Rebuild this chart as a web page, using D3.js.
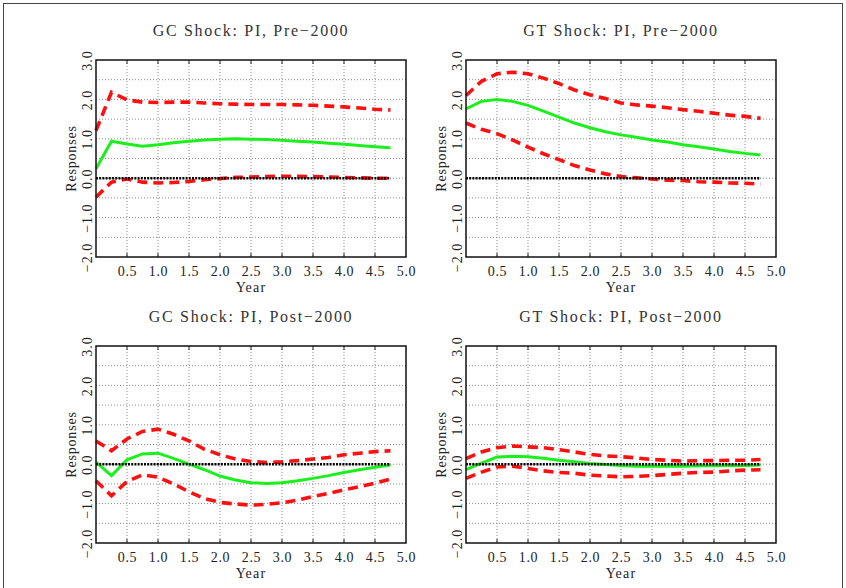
<!DOCTYPE html>
<html>
<head>
<meta charset="utf-8">
<script src="https://cdn.jsdelivr.net/npm/d3@7.9.0/dist/d3.min.js"></script>
<style>
  body { margin: 0; background: #fff; }
  svg text { font-family: "Liberation Serif", "DejaVu Serif", serif; fill: #222; }
</style>
</head>
<body>
<svg id="chart" width="846" height="588"></svg>
<script>
// quarterly horizon, in years
const quarters = [0, 0.25, 0.5, 0.75, 1.0, 1.25, 1.5, 1.75, 2.0, 2.25,
                  2.5, 2.75, 3.0, 3.25, 3.5, 3.75, 4.0, 4.25, 4.5, 4.75];

const xTicks = [0.5, 1.0, 1.5, 2.0, 2.5, 3.0, 3.5, 4.0, 4.5, 5.0];
const yTicks = [-2, -1, 0, 1, 2, 3];

// GC shock, pre-2000
const gcPreIrf = [0.24, 0.94, 0.87, 0.81, 0.85, 0.90, 0.94, 0.97, 0.99, 1.00,
                  0.99, 0.98, 0.96, 0.94, 0.92, 0.89, 0.86, 0.83, 0.80, 0.77];
const gcPreHi  = [1.21, 2.18, 1.99, 1.93, 1.92, 1.93, 1.93, 1.91, 1.89, 1.88,
                  1.87, 1.87, 1.87, 1.86, 1.85, 1.83, 1.81, 1.78, 1.75, 1.73];
const gcPreLo  = [-0.48, -0.10, -0.02, -0.10, -0.12, -0.11, -0.08, -0.04, -0.01, 0.02,
                  0.03, 0.04, 0.05, 0.05, 0.04, 0.03, 0.02, 0.01, 0.00, 0.00];

// GT shock, pre-2000
const gtPreIrf = [1.76, 1.95, 2.00, 1.95, 1.85, 1.70, 1.55, 1.40, 1.28, 1.18,
                  1.10, 1.04, 0.97, 0.92, 0.85, 0.80, 0.74, 0.68, 0.63, 0.59];
const gtPreHi  = [2.10, 2.46, 2.65, 2.69, 2.65, 2.54, 2.40, 2.24, 2.12, 2.02,
                  1.91, 1.86, 1.83, 1.79, 1.74, 1.70, 1.65, 1.60, 1.57, 1.52];
const gtPreLo  = [1.40, 1.24, 1.13, 0.97, 0.79, 0.62, 0.47, 0.32, 0.21, 0.11,
                  0.04, 0.01, -0.02, -0.05, -0.06, -0.09, -0.10, -0.12, -0.13, -0.15];

// GC shock, post-2000
const gcPostIrf = [0.05, -0.29, 0.11, 0.26, 0.28, 0.15, 0.00, -0.14, -0.30, -0.40,
                   -0.47, -0.49, -0.47, -0.42, -0.36, -0.29, -0.21, -0.14, -0.08, -0.02];
const gcPostHi  = [0.59, 0.34, 0.64, 0.83, 0.89, 0.76, 0.59, 0.38, 0.24, 0.13,
                   0.07, 0.04, 0.06, 0.09, 0.13, 0.17, 0.24, 0.28, 0.32, 0.34];
const gcPostLo  = [-0.42, -0.80, -0.44, -0.27, -0.33, -0.50, -0.70, -0.87, -0.97, -1.01,
                   -1.04, -1.02, -0.98, -0.91, -0.82, -0.74, -0.65, -0.57, -0.48, -0.38];

// GT shock, post-2000
const gtPostIrf = [-0.14, 0.03, 0.18, 0.20, 0.19, 0.15, 0.10, 0.06, 0.02, -0.01,
                   -0.03, -0.05, -0.05, -0.05, -0.05, -0.04, -0.04, -0.03, -0.03, -0.02];
const gtPostHi  = [0.14, 0.31, 0.42, 0.46, 0.44, 0.42, 0.37, 0.31, 0.25, 0.21,
                   0.19, 0.16, 0.12, 0.10, 0.08, 0.09, 0.09, 0.10, 0.10, 0.12];
const gtPostLo  = [-0.36, -0.20, -0.07, -0.05, -0.11, -0.17, -0.21, -0.23, -0.28, -0.30,
                   -0.32, -0.31, -0.29, -0.26, -0.23, -0.21, -0.20, -0.17, -0.15, -0.14];

const titles = ["GC Shock: PI, Pre\u22122000", "GT Shock: PI, Pre\u22122000",
                "GC Shock: PI, Post\u22122000", "GT Shock: PI, Post\u22122000"];

const panels = [
  { title: titles[0], irf: gcPreIrf,  hi: gcPreHi,  lo: gcPreLo,  left: 96,  top: 60 },
  { title: titles[1], irf: gtPreIrf,  hi: gtPreHi,  lo: gtPreLo,  left: 466, top: 60 },
  { title: titles[2], irf: gcPostIrf, hi: gcPostHi, lo: gcPostLo, left: 96,  top: 346 },
  { title: titles[3], irf: gtPostIrf, hi: gtPostHi, lo: gtPostLo, left: 466, top: 346 }
];

const W = 310, H = 197;
const svg = d3.select("#chart");

// page frame
svg.append("rect")
  .attr("x", 3.5).attr("y", 3.5).attr("width", 839).attr("height", 620)
  .attr("fill", "none").attr("stroke", "#444").attr("stroke-width", 1);

const x = d3.scaleLinear().domain([0, 5]).range([0, W]);
const y = d3.scaleLinear().domain([-2, 3]).range([H, 0]);

const line = vals => d3.line()
  .x((d, i) => x(quarters[i]))
  .y(d => y(d))(vals);

panels.forEach(p => {
  const g = svg.append("g").attr("transform", `translate(${p.left},${p.top})`);

  // dotted grid every 0.5
  g.append("g").selectAll("line").data(d3.range(1, 10).map(i => i * 0.5))
    .join("line")
    .attr("x1", d => x(d)).attr("x2", d => x(d))
    .attr("y1", 0).attr("y2", H)
    .attr("stroke", "#8a8a8a").attr("stroke-width", 1).attr("stroke-dasharray", "1 2");
  g.append("g").selectAll("line").data(d3.range(1, 10).map(i => -2 + i * 0.5))
    .join("line")
    .attr("x1", 0).attr("x2", W)
    .attr("y1", d => y(d)).attr("y2", d => y(d))
    .attr("stroke", "#8a8a8a").attr("stroke-width", 1).attr("stroke-dasharray", "1 2");

  // x axis labels
  const xa = g.append("g").attr("transform", `translate(0,${H})`)
    .call(d3.axisBottom(x).tickValues(xTicks).tickFormat(d3.format(".1f")).tickSize(0).tickPadding(9));
  xa.select(".domain").remove();
  xa.selectAll("text").style("font-size", "14px").attr("letter-spacing", "0.6px")
    .style("font-family", "'Liberation Serif', serif").style("fill", "#222");

  // y axis labels, rotated
  const ya = g.append("g")
    .call(d3.axisLeft(y).tickValues(yTicks).tickFormat(d => d3.format(".1f")(d).replace("-", "\u2212 ")).tickSize(0));
  ya.select(".domain").remove();
  ya.selectAll("text")
    .attr("x", null).attr("dy", null)
    .attr("text-anchor", "middle")
    .attr("transform", "translate(-4,0) rotate(-90)")
    .style("font-size", "14px").attr("letter-spacing", "1px")
    .style("font-family", "'Liberation Serif', serif").style("fill", "#222");

  // small inward ticks on top and bottom
  g.append("g").selectAll("line").data(xTicks.slice(0, -1)).join("line")
    .attr("x1", d => x(d)).attr("x2", d => x(d)).attr("y1", H).attr("y2", H - 4)
    .attr("stroke", "#222");
  g.append("g").selectAll("line").data(xTicks.slice(0, -1)).join("line")
    .attr("x1", d => x(d)).attr("x2", d => x(d)).attr("y1", 0).attr("y2", 4)
    .attr("stroke", "#222");

  // bands and response
  [p.hi, p.lo].forEach(band => {
    g.append("path").attr("d", line(band))
      .attr("fill", "none").attr("stroke", "#ff1010").attr("stroke-width", 3.6)
      .attr("stroke-dasharray", "10 6");
  });
  g.append("path").attr("d", line(p.irf))
    .attr("fill", "none").attr("stroke", "#1cf01c").attr("stroke-width", 3);

  // zero line
  g.append("path").attr("d", line(quarters.map(() => 0)))
    .attr("fill", "none").attr("stroke", "#000").attr("stroke-width", 2.6)
    .attr("stroke-dasharray", "2 1.2");

  // frame
  g.append("rect").attr("width", W).attr("height", H)
    .attr("fill", "none").attr("stroke", "#111").attr("stroke-width", 1.5);

  g.append("text").attr("x", W / 2).attr("y", -24)
    .attr("text-anchor", "middle").style("font-size", "16px").attr("letter-spacing", "1.7px")
    .style("fill", "#333")
    .text(p.title);

  g.append("text").attr("x", W / 2).attr("y", H + 35)
    .attr("text-anchor", "middle").style("font-size", "14px").attr("letter-spacing", "1.2px")
    .text("Year");

  g.append("text")
    .attr("transform", `translate(-20,${H / 2}) rotate(-90)`)
    .attr("text-anchor", "middle").style("font-size", "14px").attr("letter-spacing", "0.8px")
    .text("Responses");
});
</script>
</body>
</html>
